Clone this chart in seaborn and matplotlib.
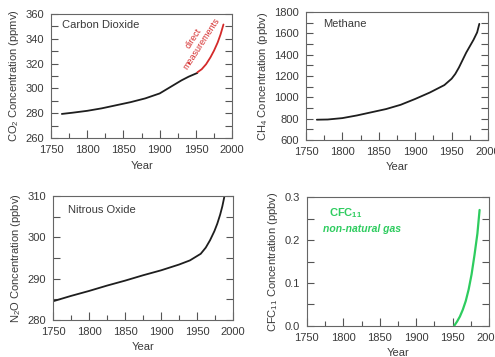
import matplotlib
matplotlib.use("Agg")
import matplotlib.pyplot as plt
import seaborn as sns
import pandas as pd
from matplotlib.ticker import MultipleLocator

# ---- data ----
co2_years = [1765, 1780, 1800, 1820, 1840, 1860, 1880, 1900, 1910, 1920, 1930, 1940, 1952]
co2_vals = [279.5, 280.5, 282.0, 284.0, 286.5, 289.0, 292.0, 296.0, 299.5, 303.0, 306.5, 309.5, 312.5]
co2_direct_years = [1952, 1958, 1964, 1970, 1975, 1980, 1984, 1988]
co2_direct_vals = [313.0, 315.5, 319.5, 325.0, 330.5, 337.0, 343.5, 351.5]

ch4_years = [1765, 1780, 1800, 1820, 1840, 1860, 1880, 1900, 1920, 1940, 1950, 1955, 1960, 1965, 1970, 1975, 1980, 1985, 1988]
ch4_vals = [790, 792, 805, 830, 860, 890, 930, 985, 1045, 1115, 1175, 1220, 1280, 1350, 1420, 1480, 1540, 1610, 1690]

n2o_years = [1750, 1775, 1800, 1825, 1850, 1875, 1900, 1925, 1940, 1955, 1962, 1968, 1974, 1978, 1982, 1985, 1988]
n2o_vals = [284.5, 285.8, 287.0, 288.3, 289.5, 290.8, 292.0, 293.4, 294.4, 296.0, 297.5, 299.3, 301.5, 303.3, 305.5, 307.5, 310.0]

cfc_years = [1952, 1956, 1960, 1964, 1968, 1972, 1976, 1980, 1984, 1987]
cfc_vals = [0.0, 0.01, 0.022, 0.038, 0.058, 0.085, 0.12, 0.165, 0.215, 0.27]

x_ticks = [1750, 1800, 1850, 1900, 1950, 2000]

sns.set_theme(style="ticks")
plt.rcParams['font.family'] = ['Liberation Sans', 'DejaVu Sans']
plt.rcParams['mathtext.fontset'] = 'custom'
plt.rcParams['mathtext.rm'] = 'Liberation Sans'
plt.rcParams['mathtext.it'] = 'Liberation Sans:italic'
plt.rcParams['mathtext.bf'] = 'Liberation Sans:bold'

TXT = '#3a3a3a'
LINE = '#1e1e1e'

fig = plt.figure(figsize=(4.95, 3.57), dpi=100)
ax1 = fig.add_axes([0.103, 0.613, 0.366, 0.348])
ax2 = fig.add_axes([0.618, 0.608, 0.368, 0.358])
ax3 = fig.add_axes([0.107, 0.104, 0.364, 0.347])
ax4 = fig.add_axes([0.620, 0.087, 0.368, 0.361])

def style(ax, ylim, ymaj, ymin, ylabel):
    ax.set_xlim(1750, 2000)
    ax.set_ylim(*ylim)
    ax.set_xticks(x_ticks)
    ax.xaxis.set_minor_locator(MultipleLocator(25))
    ax.yaxis.set_major_locator(MultipleLocator(ymaj))
    ax.yaxis.set_minor_locator(MultipleLocator(ymin))
    ax.tick_params(axis='both', which='both', direction='in', colors='#555555',
                   labelcolor=TXT, labelsize=8, right=True, top=False)
    ax.tick_params(axis='x', which='major', length=6, width=0.8, pad=5)
    ax.tick_params(axis='x', which='minor', length=3.5, width=0.8)
    ax.tick_params(axis='y', which='both', length=5, width=0.8, pad=5)
    for s in ax.spines.values():
        s.set_color('#666666')
        s.set_linewidth(0.8)
        s.set_visible(True)
    ax.set_xlabel('Year', fontsize=8, color=TXT, labelpad=4)
    ax.set_ylabel(ylabel, fontsize=8, color=TXT, labelpad=3)

# CO2
sns.lineplot(x=co2_years, y=co2_vals, ax=ax1, color=LINE, linewidth=1.3)
sns.lineplot(x=co2_direct_years, y=co2_direct_vals, ax=ax1, color='#d42a2a', linewidth=1.3)
style(ax1, (260, 360), 20, 10, 'CO$_2$ Concentration (ppmv)')
ax1.text(0.06, 0.91, 'Carbon Dioxide', transform=ax1.transAxes, fontsize=8,
         color=TXT, va='center', ha='left')
ax1.text(1952, 338, 'direct\nmeasurements', rotation=57, color='#d42a2a',
         fontsize=6.5, ha='center', va='center', multialignment='center',
         linespacing=1.0, rotation_mode='anchor')

# CH4
sns.lineplot(x=ch4_years, y=ch4_vals, ax=ax2, color=LINE, linewidth=1.3)
style(ax2, (600, 1800), 200, 100, 'CH$_4$ Concentration (ppbv)')
ax2.text(0.093, 0.906, 'Methane', transform=ax2.transAxes, fontsize=8,
         color=TXT, va='center', ha='left')

# N2O
sns.lineplot(x=n2o_years, y=n2o_vals, ax=ax3, color=LINE, linewidth=1.3)
style(ax3, (280, 310), 10, 5, 'N$_2$O Concentration (ppbv)')
ax3.text(0.083, 0.887, 'Nitrous Oxide', transform=ax3.transAxes, fontsize=8,
         color=TXT, va='center', ha='left')

# CFC11
sns.lineplot(x=cfc_years, y=cfc_vals, ax=ax4, color='#2ecc5f', linewidth=1.6)
style(ax4, (0.0, 0.3), 0.1, 0.05, 'CFC$_{11}$ Concentration (ppbv)')
ax4.yaxis.set_major_formatter(matplotlib.ticker.FormatStrFormatter('%.1f'))
ax4.text(0.12, 0.876, r'CFC$_{\mathbf{11}}$', transform=ax4.transAxes, fontsize=8,
         color='#2ecc5f', fontweight='bold', va='center', ha='left')
ax4.text(0.088, 0.75, 'non-natural gas', transform=ax4.transAxes, fontsize=7.5,
         color='#2ecc5f', fontweight='bold', fontstyle='italic', va='center', ha='left')

fig.savefig('out.png', dpi=100)
